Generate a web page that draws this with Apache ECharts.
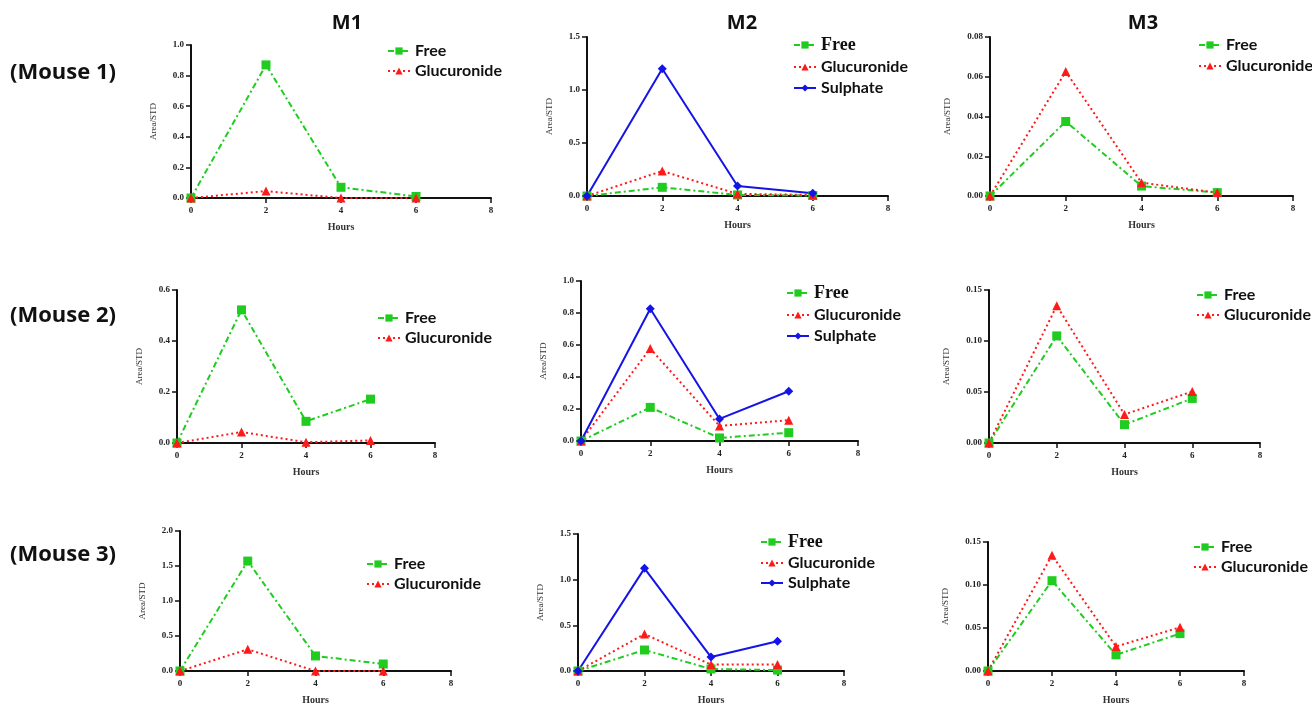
<!DOCTYPE html>
<html>
<head>
<meta charset="utf-8">
<script src="https://cdn.jsdelivr.net/npm/echarts@6/dist/echarts.min.js"></script>
<style>
  html, body { margin: 0; background: #fff; }
  #main { width: 1312px; height: 706px; }
</style>
</head>
<body>
<div id="main"></div>
<script>
const hours = [0, 2, 4, 6];
const xTicks = [0, 8, 2]; // min, max, interval

// Mouse 1
const m1Free1 = [0, 0.87, 0.07, 0.01];
const m1Gluc1 = [0, 0.045, 0, 0];
const m2Free1 = [0, 0.082, 0.01, 0.005];
const m2Gluc1 = [0, 0.235, 0.02, 0.01];
const m2Sulph1 = [0, 1.2, 0.094, 0.025];
const m3Free1 = [0, 0.0375, 0.005, 0.0017];
const m3Gluc1 = [0, 0.0626, 0.0067, 0.0017];
// Mouse 2
const m1Free2 = [0, 0.522, 0.085, 0.172];
const m1Gluc2 = [0, 0.043, 0.003, 0.01];
const m2Free2 = [0, 0.21, 0.019, 0.052];
const m2Gluc2 = [0, 0.578, 0.094, 0.13];
const m2Sulph2 = [0, 0.827, 0.138, 0.311];
const m3Free2 = [0, 0.105, 0.018, 0.0437];
const m3Gluc2 = [0, 0.1346, 0.028, 0.0505];
// Mouse 3
const m1Free3 = [0, 1.57, 0.215, 0.1];
const m1Gluc3 = [0, 0.31, 0, 0];
const m2Free3 = [0, 0.23, 0.022, 0.01];
const m2Gluc3 = [0, 0.405, 0.07, 0.07];
const m2Sulph3 = [0, 1.124, 0.153, 0.325];
const m3Free3 = [0, 0.105, 0.0188, 0.0435];
const m3Gluc3 = [0, 0.1346, 0.0285, 0.0508];

// y axis tick labels per panel (row by row)
const yMax = [1.0, 1.5, 0.08, 0.6, 1.0, 0.15, 2.0, 1.5, 0.15];
const yStep = [0.2, 0.5, 0.02, 0.2, 0.2, 0.05, 0.5, 0.5, 0.05];
const yDecimals = [1, 1, 2, 1, 1, 2, 1, 1, 2];

const columnTitles = ['M1', 'M2', 'M3'];
const rowTitles = ['(Mouse 1)', '(Mouse 2)', '(Mouse 3)'];

const panelData = [
  [m1Free1, m1Gluc1, null],
  [m2Free1, m2Gluc1, m2Sulph1],
  [m3Free1, m3Gluc1, null],
  [m1Free2, m1Gluc2, null],
  [m2Free2, m2Gluc2, m2Sulph2],
  [m3Free2, m3Gluc2, null],
  [m1Free3, m1Gluc3, null],
  [m2Free3, m2Gluc3, m2Sulph3],
  [m3Free3, m3Gluc3, null]
];

// layout: grid left, top, width, height
const boxes = [
  [191, 45, 300, 153], [587, 37, 301, 159], [990, 37, 303, 159],
  [177, 290, 258, 153], [581, 281, 277, 160], [989, 290, 271, 153],
  [180, 531, 271, 149], [578, 534, 266, 137], [988, 542, 256, 130]
];
// legend text x, top, gap
const legendPos = [
  [414, 43, 4], [820, 36, 5], [1225, 37, 5],
  [404, 310, 4], [813, 284, 5], [1223, 287, 4],
  [393, 556, 4], [787, 533, 4], [1220, 539, 4]
];

const GREEN = '#1fcc1f';
const RED = '#ff1a1a';
const BLUE = '#1414e6';
const SERIF = 'Liberation Serif';
const SANS = 'Lato';

const grids = [], xAxes = [], yAxes = [], series = [], legends = [];

boxes.forEach(function (b, i) {
  grids.push({ left: b[0], top: b[1], width: b[2], height: b[3] });
  xAxes.push({
    type: 'value', gridIndex: i,
    min: xTicks[0], max: xTicks[1], interval: xTicks[2],
    name: 'Hours', nameLocation: 'middle', nameGap: 24,
    nameTextStyle: { fontFamily: SERIF, fontWeight: 'bold', fontSize: 10, color: '#333' },
    axisLine: { lineStyle: { color: '#111', width: 2 } },
    axisTick: { length: 5, lineStyle: { color: '#111', width: 1.5 } },
    axisLabel: { fontFamily: SERIF, fontWeight: 'bold', fontSize: 9, color: '#222', margin: 8 },
    splitLine: { show: false }
  });
  yAxes.push({
    type: 'value', gridIndex: i,
    min: 0, max: yMax[i], interval: yStep[i],
    name: 'Area/STD', nameLocation: 'middle', nameGap: yDecimals[i] === 2 ? 38 : 33,
    nameTextStyle: { fontFamily: SERIF, fontSize: 9, color: '#333' },
    axisLine: { show: true, lineStyle: { color: '#111', width: 2 } },
    axisTick: { show: true, length: 5, lineStyle: { color: '#111', width: 1.5 } },
    axisLabel: {
      fontFamily: SERIF, fontWeight: 'bold', fontSize: 9, color: '#222', margin: 7,
      formatter: function (v) { return v.toFixed(yDecimals[i]); }
    },
    splitLine: { show: false }
  });

  const d = panelData[i];
  series.push({
    name: 'Free', type: 'line', xAxisIndex: i, yAxisIndex: i,
    data: hours.map(function (h, k) { return [h, d[0][k]]; }),
    symbol: 'rect', symbolSize: 9,
    itemStyle: { color: GREEN },
    lineStyle: { color: GREEN, width: 2, type: [6, 3, 2, 3] }
  });
  series.push({
    name: 'Glucuronide', type: 'line', xAxisIndex: i, yAxisIndex: i,
    data: hours.map(function (h, k) { return [h, d[1][k]]; }),
    symbol: 'triangle', symbolSize: 9,
    itemStyle: { color: RED },
    lineStyle: { color: RED, width: 2, type: [2, 3] }
  });
  if (d[2]) {
    series.push({
      name: 'Sulphate', type: 'line', xAxisIndex: i, yAxisIndex: i,
      data: hours.map(function (h, k) { return [h, d[2][k]]; }),
      symbol: 'diamond', symbolSize: 9,
      itemStyle: { color: BLUE },
      lineStyle: { color: BLUE, width: 2 }
    });
  }

  const lp = legendPos[i];
  const items = [
    d[2] ? { name: 'Free', textStyle: { fontFamily: SERIF, fontSize: 18 } } : 'Free',
    'Glucuronide'
  ];
  if (d[2]) items.push('Sulphate');
  legends.push({
    orient: 'vertical', left: lp[0] - 27, top: lp[1],
    padding: 0, itemGap: lp[2], itemWidth: 22, itemHeight: 9,
    selectedMode: false,
    data: items,
    textStyle: { fontFamily: SANS, fontWeight: 'bold', fontSize: 16, color: '#111' }
  });
});

const titleX = [347, 742, 1143];
const rowY = [73, 316, 555];
const graphics = [];
columnTitles.forEach(function (t, i) {
  graphics.push({
    type: 'text', x: titleX[i], y: 23,
    style: { text: t, fontFamily: 'Open Sans', fontWeight: 'bold', fontSize: 20,
      fill: '#111', textAlign: 'center', textVerticalAlign: 'middle' }
  });
});
rowTitles.forEach(function (t, i) {
  graphics.push({
    type: 'text', x: 10, y: rowY[i],
    style: { text: t, fontFamily: 'Open Sans', fontWeight: 'bold', fontSize: 22,
      fill: '#111', textAlign: 'left', textVerticalAlign: 'middle' }
  });
});

const chart = echarts.init(document.getElementById('main'));
chart.setOption({
  backgroundColor: '#fff',
  animation: false,
  grid: grids,
  xAxis: xAxes,
  yAxis: yAxes,
  legend: legends,
  series: series,
  graphic: graphics
});
</script>
</body>
</html>
